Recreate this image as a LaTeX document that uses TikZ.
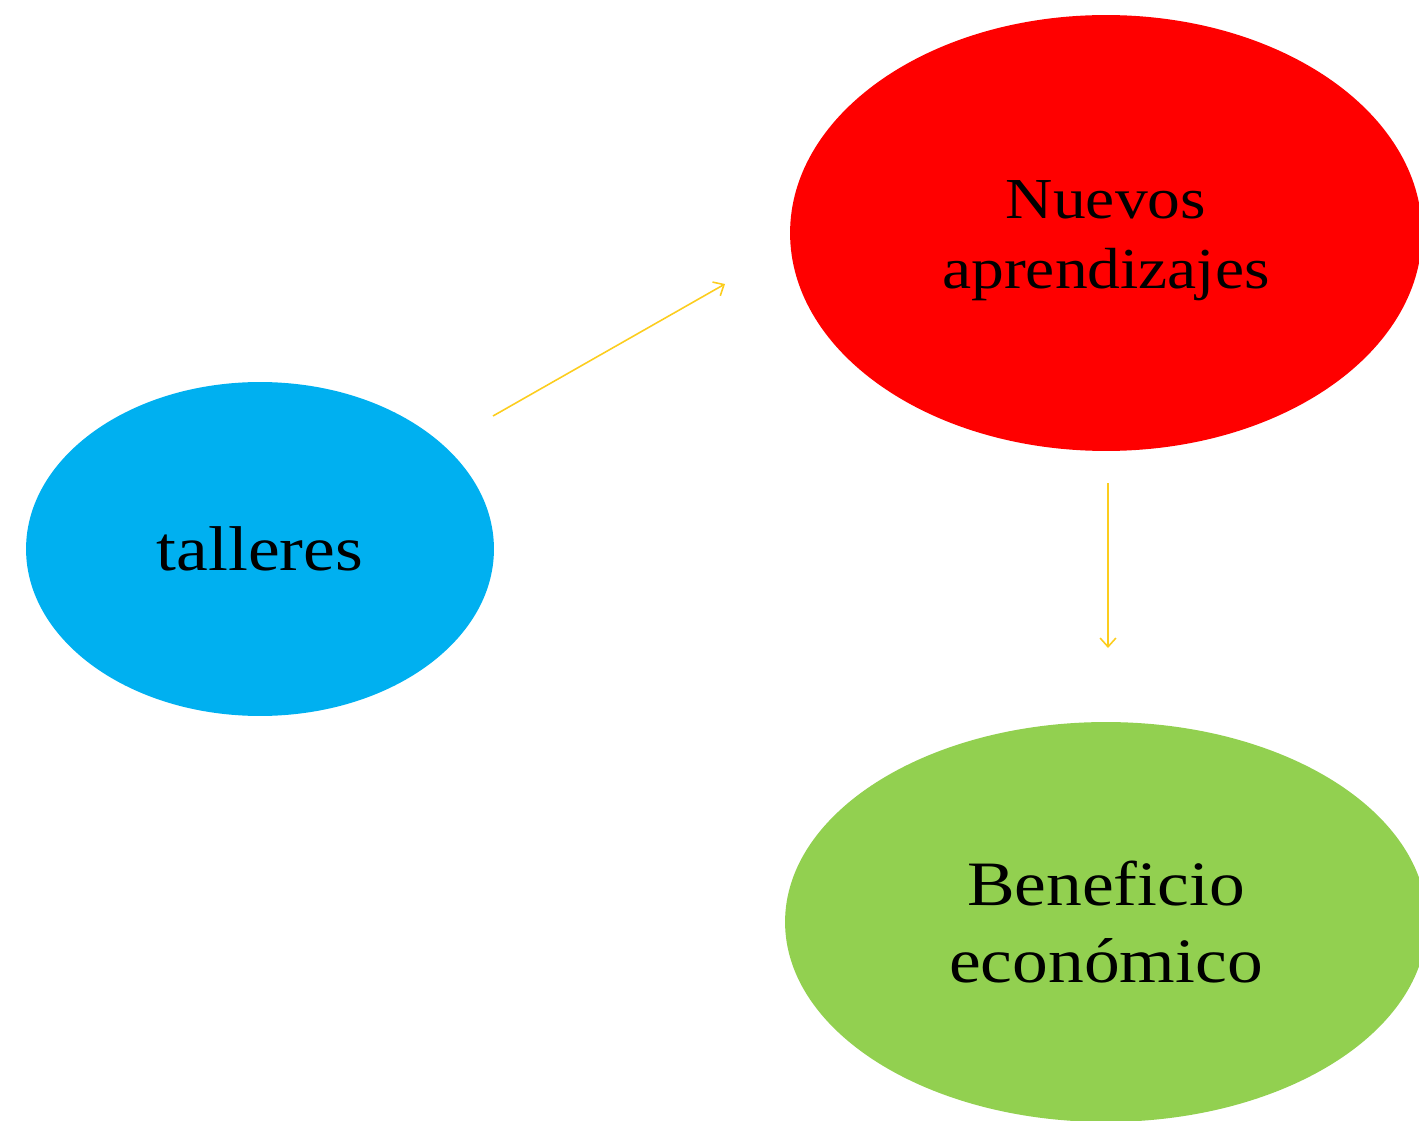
\documentclass[tikz,border=0pt]{standalone}
\usepackage{fontspec}
\setmainfont[FakeStretch=1.13]{Liberation Serif}
\usetikzlibrary{shapes.geometric,arrows.meta}
\definecolor{tallerblue}{RGB}{0,176,240}
\definecolor{aprendred}{RGB}{255,0,0}
\definecolor{benefgreen}{RGB}{146,208,80}
\definecolor{flechagold}{RGB}{252,205,30}
\tikzset{
  burbuja/.style={ellipse, inner sep=0pt, align=center, text=black},
  flecha/.style={draw=flechagold, line width=0.9pt, -{Straight Barb[length=5pt,width=9pt]}}
}
\begin{document}
\begin{tikzpicture}[x=0.02cm,y=-0.02cm]
				% Frame
				\useasboundingbox (0,0) rectangle (1419,1121);
				\clip (0,0) rectangle (1419,1121);
				% Bubbles
				\node[burbuja, fill=tallerblue, minimum width=9.36cm, minimum height=6.68cm,
				      font=\fontsize{36}{43}\selectfont] (talleres) at (260,549) {talleres};
				\node[burbuja, fill=aprendred, minimum width=12.64cm, minimum height=8.72cm,
				      font=\fontsize{33}{40}\selectfont] (nuevos) at (1106,233) {};
				\node[align=center, font=\fontsize{33}{40}\selectfont] (nuevostxt) at (1106,241) {Nuevos\\aprendizajes};
				\node[burbuja, fill=benefgreen, minimum width=12.84cm, minimum height=8.0cm,
				      font=\fontsize{36}{44}\selectfont] (beneficio) at (1106,922) {Beneficio\\económico};
				% Arrows
				\coordinate (t-sale) at (493,416);
				\coordinate (n-entra) at (725,284);
				\coordinate (n-sale) at (1108,483);
				\coordinate (b-entra) at (1108,648);
				\draw[flecha] (t-sale) -- (n-entra);
				\draw[flecha] (n-sale) -- (b-entra);
\end{tikzpicture}
\end{document}
